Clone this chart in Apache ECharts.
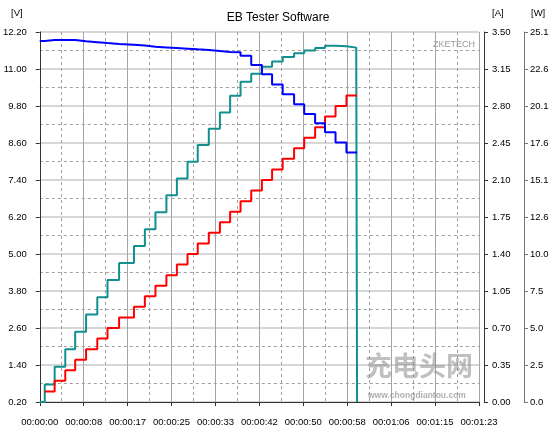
<!DOCTYPE html>
<html>
<head>
<meta charset="utf-8">
<script src="https://cdn.jsdelivr.net/npm/echarts@6/dist/echarts.min.js"></script>
<style>html,body{margin:0;padding:0;background:#fff;}#c{width:556px;height:434px;}</style>
</head>
<body>
<div id="c"></div>
<script>
// ---- data ----
const times = [0, 0.94, 2.81, 4.82, 6.69, 8.75, 10.87, 12.80, 14.99, 17.80, 19.86, 21.86, 23.93, 25.91, 27.92, 29.85, 31.94, 34.04, 35.97, 37.94, 39.96, 41.97, 43.90, 45.90, 48.06, 49.97, 52.03, 53.90, 55.89, 57.95, 59.80, 59.96];
const voltage = [11.91, 11.94, 11.94, 11.94, 11.90, 11.87, 11.84, 11.81, 11.79, 11.76, 11.72, 11.70, 11.68, 11.66, 11.64, 11.62, 11.58, 11.55, 11.54, 11.43, 11.13, 10.83, 10.50, 10.18, 9.86, 9.54, 9.24, 8.95, 8.62, 8.29, 8.29, null];
const current = [null, 0.10, 0.20, 0.30, 0.40, 0.50, 0.60, 0.70, 0.80, 0.90, 1.00, 1.10, 1.20, 1.30, 1.40, 1.50, 1.60, 1.70, 1.80, 1.90, 2.00, 2.10, 2.20, 2.30, 2.40, 2.50, 2.60, 2.70, 2.80, 2.90, 2.90, null];
const power = [0, 1.19, 2.39, 3.58, 4.76, 5.93, 7.10, 8.27, 9.43, 10.58, 11.72, 12.87, 14.02, 15.16, 16.30, 17.43, 18.53, 19.64, 20.77, 21.72, 22.26, 22.74, 23.10, 23.41, 23.66, 23.85, 24.02, 24.17, 24.14, 24.04, 24.04, 0];

const timeTicks = ['00:00:00','00:00:08','00:00:17','00:00:25','00:00:33','00:00:42','00:00:50','00:00:58','00:01:06','00:01:15','00:01:23'];
const voltTicks = ['0.20','1.40','2.60','3.80','5.00','6.20','7.40','8.60','9.80','11.00','12.20'];
const ampTicks = ['0.00','0.35','0.70','1.05','1.40','1.75','2.10','2.45','2.80','3.15','3.50'];
const wattTicks = ['0.0','2.5','5.0','7.5','10.0','12.6','15.1','17.6','20.1','22.6','25.1'];

const FONT = 'Liberation Sans, Arial, sans-serif';
function pairs(vals){ return times.map((t,i)=>[t, vals[i]]); }
function idxFmt(labels, min, step){ return v => labels[Math.round((v-min)/step)] || ''; }

const chart = echarts.init(document.getElementById('c'), null, {renderer:'canvas'});
chart.setOption({
  animation: false,
  backgroundColor: '#ffffff',
  title: { text: 'EB Tester Software', left: 'center', top: 7,
    textStyle: { fontSize: 12, fontWeight: 'normal', color: '#000', fontFamily: FONT } },
  grid: { left: 35, right: 77, top: 32, bottom: 32 },
  xAxis: {
    type: 'value', min: 0, max: 83, interval: 8.3, offset: 7,
    axisLine: { show: true, lineStyle: { color: '#333', width: 1 } },
    axisTick: { show: true, length: 4, lineStyle: { color: '#333' } },
    axisLabel: { formatter: idxFmt(timeTicks, 0, 8.3), fontSize: 9.5, color: '#000', fontFamily: FONT, margin: 8 },
    splitLine: { show: true, lineStyle: { color: '#a4a4a4', width: 1 } },
    minorTick: { show: false, splitNumber: 2 },
    minorSplitLine: { show: true, lineStyle: { color: '#a0a0a0', width: 1, type: [3,3] } }
  },
  yAxis: [
    { type: 'value', position: 'left', min: 0.2, max: 12.2, interval: 1.2, offset: 2,
      axisLine: { show: true, lineStyle: { color: '#333' } },
      axisTick: { show: true, length: 4, lineStyle: { color: '#333' } },
      axisLabel: { formatter: idxFmt(voltTicks, 0.2, 1.2), fontSize: 9.5, color: '#000', fontFamily: FONT, margin: 11 },
      splitLine: { show: true, lineStyle: { color: '#cacaca', width: 1.6 } },
      minorTick: { show: false, splitNumber: 2 },
      minorSplitLine: { show: true, lineStyle: { color: '#a0a0a0', width: 1, type: [3,3] } }
    },
    { type: 'value', position: 'right', min: 0, max: 3.5, interval: 0.35, offset: 5,
      axisLine: { show: true, lineStyle: { color: '#333' } },
      axisTick: { show: true, length: 4, lineStyle: { color: '#333' } },
      axisLabel: { formatter: idxFmt(ampTicks, 0, 0.35), fontSize: 9.5, color: '#000', fontFamily: FONT, margin: 8 },
      splitLine: { show: false }
    },
    { type: 'value', position: 'right', min: 0, max: 25.1, interval: 2.51, offset: 45,
      axisLine: { show: true, lineStyle: { color: '#777' } },
      axisTick: { show: true, length: 4, lineStyle: { color: '#777' } },
      axisLabel: { formatter: idxFmt(wattTicks, 0, 2.51), fontSize: 9.5, color: '#000', fontFamily: FONT, margin: 6 },
      splitLine: { show: false }
    }
  ],
  graphic: [
    { type: 'text', left: 11, top: 8, style: { text: '[V]', fontSize: 9.5, fill: '#000', fontFamily: FONT } },
    { type: 'text', left: 492, top: 8, style: { text: '[A]', fontSize: 9.5, fill: '#000', fontFamily: FONT } },
    { type: 'text', left: 531, top: 8, style: { text: '[W]', fontSize: 9.5, fill: '#000', fontFamily: FONT } },
    { type: 'text', left: 433, top: 40, style: { text: 'ZKETECH', fontSize: 9, fill: '#999', fontFamily: FONT } },
    { type: 'text', left: 365, top: 352, z: 1, style: { text: '充电头网', fontSize: 27, fontWeight: 'bold', fill: 'rgba(140,140,140,0.55)', fontFamily: 'Noto Sans CJK SC' } },
    { type: 'text', left: 368, top: 391, z: 1, style: { text: 'www.chongdiantou.com', fontSize: 8.5, fontWeight: 'bold', fill: 'rgba(140,140,140,0.7)', fontFamily: FONT } }
  ],
  series: [
    { name: 'V', type: 'line', yAxisIndex: 0, step: 'end', showSymbol: false, data: pairs(voltage),
      lineStyle: { color: '#0000ff', width: 2 }, itemStyle: { color: '#0000ff' }, z: 4 },
    { name: 'A', type: 'line', yAxisIndex: 1, step: 'end', showSymbol: false, data: pairs(current),
      lineStyle: { color: '#ff0000', width: 2 }, itemStyle: { color: '#ff0000' }, z: 3 },
    { name: 'W', type: 'line', yAxisIndex: 2, step: 'end', showSymbol: false, data: pairs(power),
      lineStyle: { color: '#128f8f', width: 2 }, itemStyle: { color: '#128f8f' }, z: 2 }
  ]
});
</script>
</body>
</html>
